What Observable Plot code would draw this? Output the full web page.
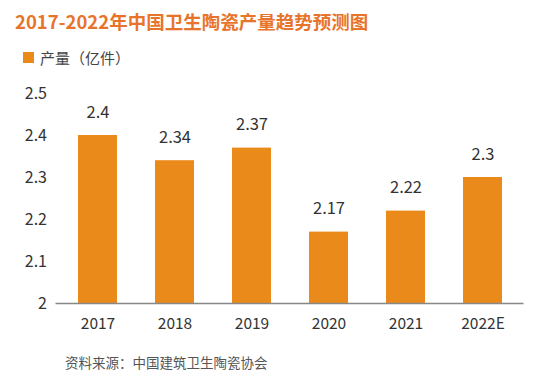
<!DOCTYPE html>
<html><head><meta charset="utf-8">
<script src="https://cdn.jsdelivr.net/npm/d3@7"></script>
<script src="https://cdn.jsdelivr.net/npm/@observablehq/plot@0.6"></script>
<style>
body{margin:0;background:#fff;font-family:"Noto Sans CJK SC","Noto Sans",sans-serif;width:550px;height:383px;overflow:hidden;position:relative}
#title{position:absolute;left:15px;top:8px;font-size:18.5px;font-weight:bold;color:#E8742C;white-space:nowrap}
#legend{position:absolute;left:23px;top:47px;font-size:15px;color:#444;display:flex;align-items:center}
#legend span.sw{display:inline-block;width:11px;height:11px;background:#EA8A1B;margin-right:6px}
#chart{position:absolute;left:0;top:75px}
#source{position:absolute;left:65px;top:352px;font-size:13.5px;color:#555;white-space:nowrap}
</style></head>
<body>
<div id="title">2017-2022年中国卫生陶瓷产量趋势预测图</div>
<div id="legend"><span class="sw"></span>产量（亿件）</div>
<div id="chart"></div>
<div id="source">资料来源：中国建筑卫生陶瓷协会</div>
<script>
const years = ["2017","2018","2019","2020","2021","2022E"];
const output = [2.4, 2.34, 2.37, 2.17, 2.22, 2.3];
const yTicks = [2, 2.1, 2.2, 2.3, 2.4, 2.5];
const data = years.map((y, i) => ({year: y, value: output[i]}));
const barColor = "#EA8A1B";
const font = '"Noto Sans CJK SC","Noto Sans",sans-serif';

const plot = Plot.plot({
  width: 550,
  height: 265,
  marginTop: 18,
  marginBottom: 37,
  marginLeft: 58.5,
  marginRight: 29.5,
  style: {fontFamily: font, color: "#333", background: "transparent"},
  x: {domain: years, paddingInner: 0.5, paddingOuter: 0.25},
  y: {domain: [2, 2.5], clamp: true},
  marks: [
    Plot.barY(data, {x: "year", y: "value", fill: barColor}),
    Plot.ruleY([2], {stroke: "#888", strokeWidth: 1.5, insetLeft: -3, insetRight: -3}),
    Plot.axisY({ticks: yTicks, tickFormat: d => String(d), label: null, tickSize: 0, tickPadding: 12, fontSize: 16, fill: "#333"}),
    Plot.axisX({label: null, tickSize: 0, tickPadding: 14, fontSize: 15.5, fill: "#333"}),
    Plot.text(data, {x: "year", y: "value", text: d => String(d.value), dy: -23, fontSize: 16.5, fill: "#333"})
  ]
});
document.getElementById("chart").appendChild(plot);
</script>
</body></html>
